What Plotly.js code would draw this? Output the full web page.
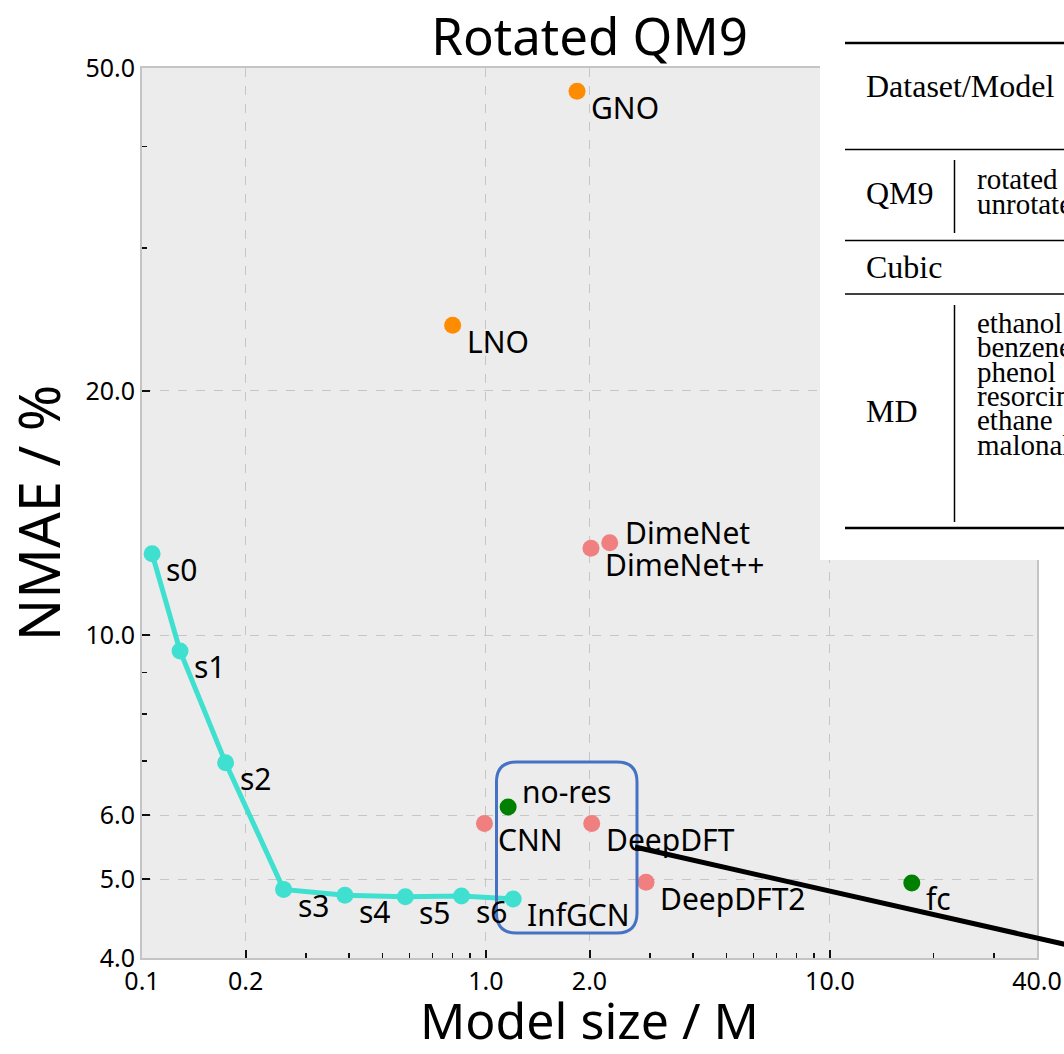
<!DOCTYPE html>
<html>
<head>
<meta charset="utf-8">
<script src="https://cdn.plot.ly/plotly-3.0.1.min.js"></script>
<style>
  html, body { margin: 0; padding: 0; background: #ffffff; overflow: hidden; }
  #chart { width: 1064px; height: 1054px; }
</style>
</head>
<body>
<div id="chart"></div>
<script>
// ---------------- data ----------------
const infgcnNames = ['s0', 's1', 's2', 's3', 's4', 's5', 's6', 'InfGCN'];
const infgcnSize  = [0.107, 0.129, 0.175, 0.258, 0.389, 0.583, 0.849, 1.20];
const infgcnNMAE  = [12.6, 9.56, 6.96, 4.86, 4.78, 4.76, 4.77, 4.73];

const baselineNames = ['CNN', 'DeepDFT', 'DeepDFT2', 'DimeNet', 'DimeNet++'];
const baselineSize  = [0.99, 2.03, 2.92, 2.29, 2.02];
const baselineNMAE  = [5.86, 5.86, 4.96, 13.0, 12.8];

const operatorNames = ['GNO', 'LNO'];
const operatorSize  = [1.84, 0.80];
const operatorNMAE  = [46.8, 24.1];

const ablationNames = ['no-res', 'fc'];
const ablationSize  = [1.16, 17.3];
const ablationNMAE  = [6.14, 4.95];

const xTickVals  = [0.1, 0.2, 1, 2, 10, 40];
const xTickText  = ['0.1', '0.2', '1.0', '2.0', '10.0', '40.0'];
const xMinorVals = [0.3, 0.4, 0.5, 0.6, 0.7, 0.8, 0.9, 3, 4, 5, 6, 7, 8, 9, 20, 30];
const yTickVals  = [4, 5, 6, 10, 20, 50];
const yTickText  = ['4.0', '5.0', '6.0', '10.0', '20.0', '50.0'];
const yMinorVals = [7, 8, 9, 30, 40];

// table fragment shown at the top right
const tableHeader   = 'Dataset/Model';
const tableGroups   = ['QM9', 'Cubic', 'MD'];
const qm9Rows       = ['rotated', 'unrotated'];
const mdRows        = ['ethanol', 'benzene', 'phenol', 'resorcinol', 'ethane', 'malonaldehyde'];

// ---------------- styling ----------------
const W = 1064, H = 1054;
const M = { l: 142, r: 27, t: 68, b: 96 };
const PW = W - M.l - M.r, PH = H - M.t - M.b;
const px = p => (p - M.l) / PW;          // page pixel -> paper x
const py = p => (H - M.b - p) / PH;      // page pixel -> paper y

const COL = { infgcn: '#40E0D0', baseline: '#F08080', operator: '#FF8C00', ablation: '#008000' };
const LABEL_FONT = { family: 'Noto Sans, Open Sans, sans-serif', size: 30, color: '#000' };
const labelOffset = { 'DimeNet': [13, -10], 'no-res': [12, -16] };
const defaultOffset = [12, 16];

function scatter(xs, ys, color, withLine) {
  return {
    type: 'scatter',
    x: xs, y: ys,
    mode: withLine ? 'lines+markers' : 'markers',
    line: { color: color, width: 5 },
    marker: { color: color, size: 17, line: { width: 0 } },
    hoverinfo: 'skip',
    showlegend: false,
    cliponaxis: false
  };
}

const traces = [
  scatter(infgcnSize, infgcnNMAE, COL.infgcn, true),
  scatter(baselineSize, baselineNMAE, COL.baseline, false),
  scatter(operatorSize, operatorNMAE, COL.operator, false),
  scatter(ablationSize, ablationNMAE, COL.ablation, false)
];

const annotations = [];
function addLabels(names, xs, ys) {
  names.forEach((n, i) => {
    const off = labelOffset[n] || defaultOffset;
    annotations.push({
      x: Math.log10(xs[i]), y: Math.log10(ys[i]), xref: 'x', yref: 'y',
      text: n, showarrow: false, xanchor: 'left', yanchor: 'middle',
      xshift: off[0], yshift: -off[1], font: LABEL_FONT
    });
  });
}
addLabels(infgcnNames, infgcnSize, infgcnNMAE);
addLabels(baselineNames, baselineSize, baselineNMAE);
addLabels(operatorNames, operatorSize, operatorNMAE);
addLabels(ablationNames, ablationSize, ablationNMAE);

// table text
const SERIF_BIG = { family: 'Liberation Serif, Times New Roman, serif', size: 32, color: '#000' };
const SERIF_ROW = { family: 'Liberation Serif, Times New Roman, serif', size: 29, color: '#000' };
function tableText(text, xPix, yPix, font) {
  annotations.push({
    xref: 'paper', yref: 'paper', x: px(xPix), y: py(yPix),
    xanchor: 'left', yanchor: 'middle', text: text, showarrow: false, font: font
  });
}
tableText(tableHeader, 864, 86, SERIF_BIG);
tableText(tableGroups[0], 864, 193, SERIF_BIG);
tableText(tableGroups[1], 864, 267, SERIF_BIG);
tableText(tableGroups[2], 864, 411, SERIF_BIG);
qm9Rows.forEach((r, i) => tableText(r, 975, 179 + i * 25, SERIF_ROW));
mdRows.forEach((r, i) => tableText(r, 975, 323 + i * 24.3, SERIF_ROW));

// shapes
function hline(x0, x1, y, w) {
  return { type: 'line', xref: 'paper', yref: 'paper', x0: px(x0), x1: px(x1), y0: py(y), y1: py(y),
           line: { color: '#000', width: w }, layer: 'above' };
}
function vline(x, y0, y1, w) {
  return { type: 'line', xref: 'paper', yref: 'paper', x0: px(x), x1: px(x), y0: py(y0), y1: py(y1),
           line: { color: '#000', width: w }, layer: 'above' };
}
function roundRect(x0, y0, x1, y1, r) {
  const P = (a, b) => px(a).toFixed(5) + ',' + py(b).toFixed(5);
  return 'M' + P(x0 + r, y0) + ' L' + P(x1 - r, y0) + ' Q' + P(x1, y0) + ' ' + P(x1, y0 + r) +
         ' L' + P(x1, y1 - r) + ' Q' + P(x1, y1) + ' ' + P(x1 - r, y1) +
         ' L' + P(x0 + r, y1) + ' Q' + P(x0, y1) + ' ' + P(x0, y1 - r) +
         ' L' + P(x0, y0 + r) + ' Q' + P(x0, y0) + ' ' + P(x0 + r, y0) + ' Z';
}

const shapes = [
  // white panel of the overlaid table
  { type: 'rect', xref: 'paper', yref: 'paper', x0: px(820), x1: px(1120), y0: py(560), y1: py(20),
    fillcolor: '#ffffff', line: { width: 0 }, layer: 'above' },
  hline(845, 1120, 43, 2.5),
  hline(845, 1120, 149.5, 1.5),
  hline(845, 1120, 240.5, 1.5),
  hline(845, 1120, 294, 1.5),
  hline(845, 1120, 528, 2.5),
  vline(954.5, 160, 233, 1.5),
  vline(954.5, 305, 522, 1.5),
  // highlight box around InfGCN
  { type: 'path', xref: 'paper', yref: 'paper', path: roundRect(496.5, 762, 637, 933, 20),
    line: { color: '#4472C4', width: 3 }, fillcolor: 'rgba(0,0,0,0)', layer: 'above' },
  // pointer line toward the table
  { type: 'line', xref: 'paper', yref: 'paper', x0: px(635), y0: py(847), x1: px(1110), y1: py(954.5),
    line: { color: '#000', width: 5 }, layer: 'above' }
];

const TICK_FONT = { family: 'Noto Sans, Open Sans, sans-serif', size: 25, color: '#000' };

const layout = {
  width: W, height: H,
  margin: M,
  paper_bgcolor: '#ffffff',
  plot_bgcolor: '#ECECEC',
  font: { family: 'Noto Sans, Open Sans, sans-serif', color: '#000' },
  title: {
    text: 'Rotated QM9',
    font: { family: 'Noto Sans, Open Sans, sans-serif', size: 51, color: '#000' },
    x: 0.5, xref: 'paper', xanchor: 'center',
    y: 1 - 37 / H, yref: 'container', yanchor: 'middle'
  },
  xaxis: {
    type: 'log',
    range: [Math.log10(0.1), Math.log10(40)],
    tickmode: 'array', tickvals: xTickVals, ticktext: xTickText,
    ticks: 'inside', ticklen: 8, tickwidth: 2, tickcolor: '#111',
    tickfont: TICK_FONT,
    showgrid: true, gridcolor: '#C6C6C6', gridwidth: 1, griddash: 'dash',
    minor: { tickmode: 'array', tickvals: xMinorVals, ticks: 'inside', ticklen: 5, tickwidth: 1.5,
             tickcolor: '#111', showgrid: false },
    showline: true, mirror: true, linecolor: '#C4C4C4', linewidth: 2,
    zeroline: false, automargin: false,
    title: { text: 'Model size / M', font: { family: 'Noto Sans, Open Sans, sans-serif', size: 50, color: '#000' },
             standoff: 12 }
  },
  yaxis: {
    type: 'log',
    range: [Math.log10(4), Math.log10(50)],
    tickmode: 'array', tickvals: yTickVals, ticktext: yTickText,
    ticks: 'inside', ticklen: 8, tickwidth: 2, tickcolor: '#111',
    tickfont: TICK_FONT,
    showgrid: true, gridcolor: '#C6C6C6', gridwidth: 1, griddash: 'dash',
    minor: { tickmode: 'array', tickvals: yMinorVals, ticks: 'inside', ticklen: 5, tickwidth: 1.5,
             tickcolor: '#111', showgrid: false },
    showline: true, mirror: true, linecolor: '#C4C4C4', linewidth: 2,
    zeroline: false, automargin: false,
    title: { text: 'NMAE / %', font: { family: 'Noto Sans, Open Sans, sans-serif', size: 56, color: '#000' },
             standoff: 14 }
  },
  annotations: annotations,
  shapes: shapes,
  showlegend: false
};

Plotly.newPlot('chart', traces, layout, { displayModeBar: false, staticPlot: true });
</script>
</body>
</html>
